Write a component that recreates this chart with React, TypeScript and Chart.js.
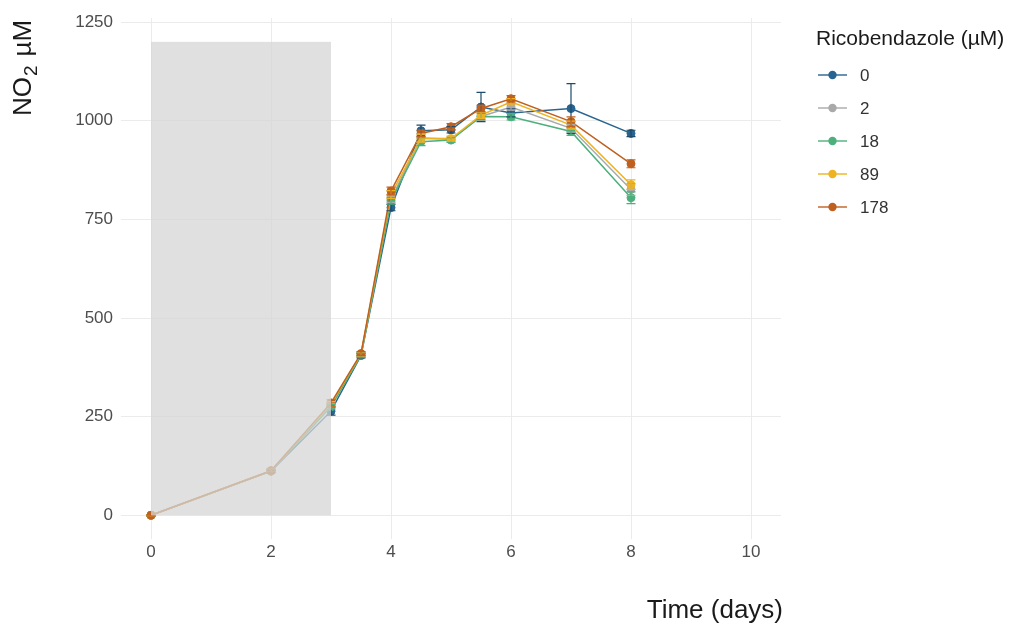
import React, { useEffect, useRef } from "react";
import { Chart, registerables } from "chart.js";

Chart.register(...registerables);

const days = [0, 2, 3, 3.5, 4, 4.5, 5, 5.5, 6, 7, 8];
const seriesLabels = ["0", "2", "18", "89", "178"];
const seriesColors = ["#27648F", "#A9A9A9", "#4DB07C", "#EDB321", "#C0601F"];

const values0 = [0, 112, 264, 405, 780, 975, 977, 1035, 1020, 1031, 968];
const values2 = [0, 113, 278, 407, 801, 956, 953, 1011, 1035, 981, 826];
const values18 = [0, 112, 275, 406, 797, 947, 951, 1011, 1010, 973, 805];
const values89 = [0, 113, 282, 409, 813, 956, 955, 1014, 1048, 989, 838];
const values178 = [0, 113, 285, 410, 822, 968, 985, 1031, 1056, 998, 891];

const err0 = [2, 4, 10, 6, 8, 14, 8, 37, 10, 63, 8];
const err2 = [2, 4, 6, 5, 8, 10, 6, 10, 8, 10, 15];
const err18 = [2, 4, 6, 5, 8, 10, 6, 8, 8, 10, 15];
const err89 = [2, 4, 6, 5, 10, 10, 6, 8, 8, 10, 12];
const err178 = [2, 4, 8, 5, 10, 8, 8, 8, 8, 12, 10];

const xTicks = [0, 2, 4, 6, 8, 10];
const yTicks = [0, 250, 500, 750, 1000, 1250];

const shadeX = [0, 3];
const shadeY = [0, 1200];

const legendTitle = "Ricobendazole (µM)";
const xTitle = "Time (days)";

const allValues = [values0, values2, values18, values89, values178];
const allErrors = [err0, err2, err18, err89, err178];

const FONT = "'Liberation Sans', Arial, sans-serif";

const overlayPlugin = {
  id: "overlay",
  afterDatasetsDraw(chart: any) {
    const ctx = chart.ctx;
    const xs = chart.scales.x;
    const ys = chart.scales.y;
    // error bars
    ctx.save();
    allValues.forEach((vals, si) => {
      ctx.strokeStyle = si === 0 ? "#1E4A6B" : seriesColors[si];
      ctx.lineWidth = 1.2;
      vals.forEach((v, i) => {
        const e = allErrors[si][i];
        const x = xs.getPixelForValue(days[i]);
        const yTop = ys.getPixelForValue(v + e);
        const yBot = ys.getPixelForValue(v - e);
        ctx.beginPath();
        ctx.moveTo(x, yTop);
        ctx.lineTo(x, yBot);
        ctx.moveTo(x - 4.5, yTop);
        ctx.lineTo(x + 4.5, yTop);
        ctx.moveTo(x - 4.5, yBot);
        ctx.lineTo(x + 4.5, yBot);
        ctx.stroke();
      });
    });
    // shaded period
    const x0 = xs.getPixelForValue(shadeX[0]);
    const x1 = xs.getPixelForValue(shadeX[1]);
    const y0 = ys.getPixelForValue(shadeY[0]);
    const y1 = ys.getPixelForValue(shadeY[1]);
    ctx.fillStyle = "rgba(214,214,214,0.75)";
    ctx.fillRect(x0, y1, x1 - x0, y0 - y1);
    ctx.restore();
  },
  afterDraw(chart: any) {
    const ctx = chart.ctx;
    ctx.save();
    // y title
    ctx.translate(31, 116);
    ctx.rotate(-Math.PI / 2);
    ctx.fillStyle = "#1a1a1a";
    ctx.textBaseline = "alphabetic";
    ctx.textAlign = "left";
    ctx.font = `26px ${FONT}`;
    ctx.fillText("NO", 0, 0);
    let w = ctx.measureText("NO").width;
    ctx.font = `19px ${FONT}`;
    ctx.fillText("2", w + 1, 6);
    w += ctx.measureText("2").width + 1;
    ctx.font = `26px ${FONT}`;
    ctx.fillText("µM", w + 9, 0);
    ctx.restore();

    ctx.save();
    // x title
    ctx.fillStyle = "#1a1a1a";
    ctx.font = `26px ${FONT}`;
    ctx.textAlign = "right";
    ctx.textBaseline = "alphabetic";
    ctx.fillText(xTitle, 783, 618);

    // legend
    ctx.textAlign = "left";
    ctx.font = `21px ${FONT}`;
    ctx.fillText(legendTitle, 816, 45);
    ctx.font = `17px ${FONT}`;
    ctx.textBaseline = "middle";
    seriesLabels.forEach((lab, i) => {
      const y = 75 + 33 * i;
      ctx.strokeStyle = seriesColors[i];
      ctx.lineWidth = 1.4;
      ctx.beginPath();
      ctx.moveTo(818, y);
      ctx.lineTo(847, y);
      ctx.stroke();
      ctx.fillStyle = seriesColors[i];
      ctx.beginPath();
      ctx.arc(832.5, y, 4.2, 0, Math.PI * 2);
      ctx.fill();
      ctx.fillStyle = "#333333";
      ctx.fillText(lab, 860, y + 1);
    });
    ctx.restore();
  },
};

export default function App() {
  const canvasRef = useRef<HTMLCanvasElement>(null);

  useEffect(() => {
    if (!canvasRef.current) return;
    const datasets = allValues.map((vals, si) => ({
      label: seriesLabels[si],
      data: vals.map((v, i) => ({ x: days[i], y: v })),
      borderColor: seriesColors[si],
      backgroundColor: seriesColors[si],
      pointBackgroundColor: seriesColors[si],
      pointBorderColor: seriesColors[si],
      pointRadius: 4,
      pointBorderWidth: 1,
      borderWidth: 1.5,
      tension: 0,
      order: seriesLabels.length - si,
    }));
    const chart = new Chart(canvasRef.current, {
      type: "line",
      data: { datasets },
      options: {
        responsive: false,
        animation: false,
        devicePixelRatio: 1,
        layout: { padding: { left: 0, top: 14, right: 238, bottom: 0 } },
        plugins: {
          legend: { display: false },
          tooltip: { enabled: false },
        },
        scales: {
          x: {
            type: "linear",
            min: -0.5,
            max: 10.5,
            afterFit: (s: any) => {
              s.height = 93;
            },
            afterBuildTicks: (s: any) => {
              s.ticks = xTicks.map((v) => ({ value: v }));
            },
            grid: { color: "#EBEBEB", lineWidth: 1, drawTicks: false },
            border: { display: false },
            ticks: {
              autoSkip: false,
              maxRotation: 0,
              padding: 3,
              color: "#4D4D4D",
              font: { family: FONT, size: 17 },
              callback: (v: any) => String(v),
            },
          },
          y: {
            type: "linear",
            min: -60,
            max: 1260,
            afterFit: (s: any) => {
              s.width = 121;
            },
            afterBuildTicks: (s: any) => {
              s.ticks = yTicks.map((v) => ({ value: v }));
            },
            grid: { color: "#EBEBEB", lineWidth: 1, drawTicks: false },
            border: { display: false },
            ticks: {
              autoSkip: false,
              padding: 8,
              color: "#4D4D4D",
              font: { family: FONT, size: 17 },
              callback: (v: any) => String(v),
            },
          },
        },
      },
      plugins: [overlayPlugin],
    });
    return () => chart.destroy();
  }, []);

  return (
    <div style={{ position: "absolute", left: 0, top: 0, width: 1019, height: 632, background: "#fff" }}>
      <canvas ref={canvasRef} width={1019} height={632} style={{ display: "block" }} />
    </div>
  );
}
